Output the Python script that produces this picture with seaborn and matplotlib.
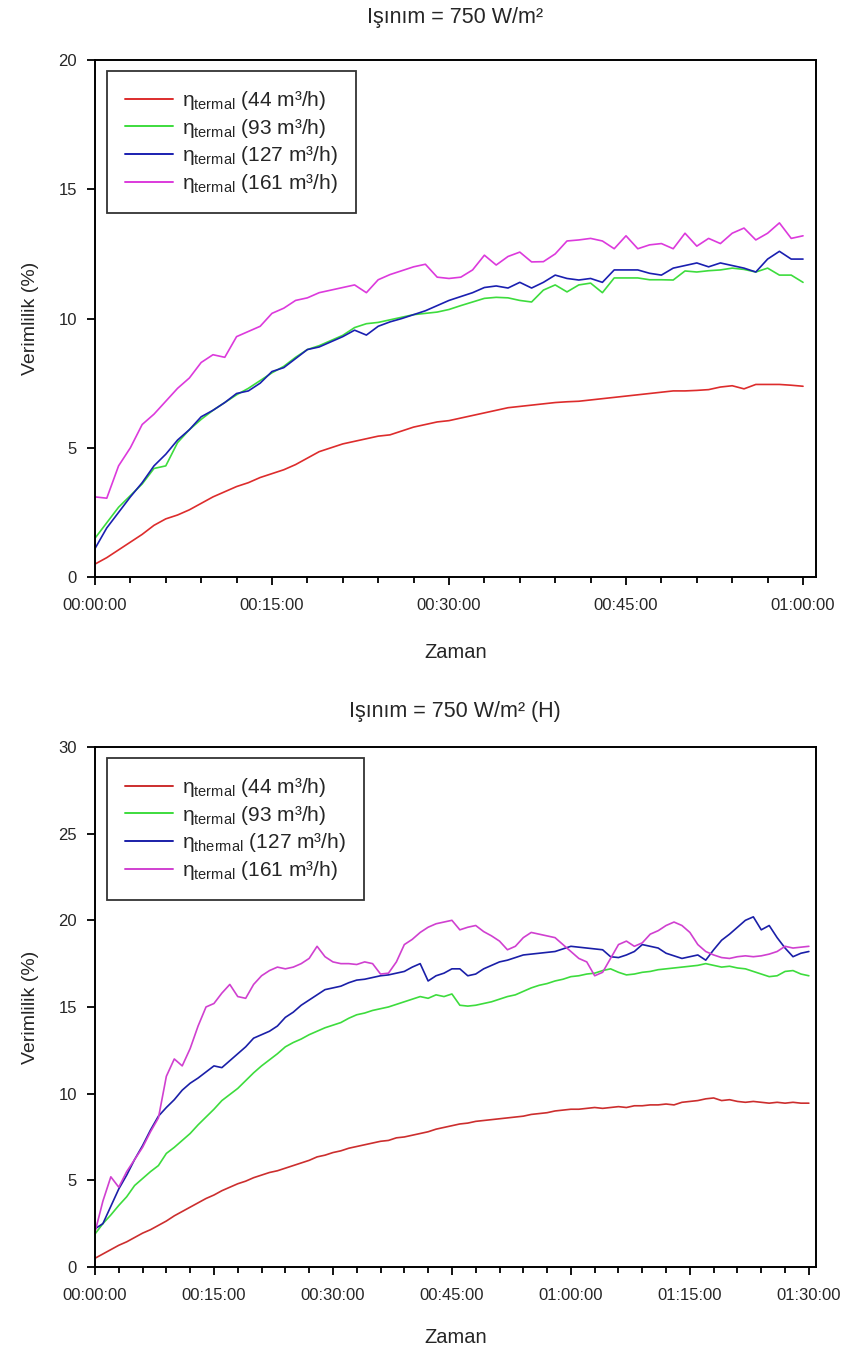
import numpy as np
import pandas as pd
import seaborn as sns
import matplotlib
matplotlib.use("Agg")
import matplotlib.pyplot as plt
from matplotlib.ticker import MultipleLocator, FuncFormatter

# ---------------- data (minutes, efficiency %) ----------------
t_top = list(range(0, 61))
top_44 = [0.5, 0.75, 1.05, 1.35, 1.65, 2.0, 2.25, 2.4, 2.6, 2.85, 3.1, 3.3, 3.5, 3.65, 3.85, 4.0,
          4.15, 4.35, 4.6, 4.85, 5.0, 5.15, 5.25, 5.35, 5.45, 5.5, 5.65, 5.8, 5.9, 6.0, 6.05,
          6.15, 6.25, 6.35, 6.45, 6.55, 6.6, 6.65, 6.7, 6.75, 6.78, 6.8, 6.85, 6.9, 6.95, 7.0,
          7.05, 7.1, 7.15, 7.2, 7.2, 7.22, 7.25, 7.35, 7.4, 7.28, 7.45, 7.45, 7.45, 7.42, 7.38]
top_93 = [1.5, 2.1, 2.7, 3.15, 3.6, 4.2, 4.3, 5.2, 5.7, 6.1, 6.45, 6.75, 7.05, 7.3, 7.6, 7.9,
          8.15, 8.5, 8.8, 8.95, 9.15, 9.35, 9.65, 9.8, 9.85, 9.95, 10.05, 10.15, 10.2, 10.25, 10.35,
          10.5, 10.64, 10.78, 10.82, 10.8, 10.7, 10.64, 11.1, 11.3, 11.03, 11.3, 11.37, 11.0, 11.57, 11.57,
          11.57, 11.5, 11.5, 11.49, 11.84, 11.8, 11.85, 11.88, 11.95, 11.9, 11.8, 11.95, 11.68, 11.68, 11.4]
top_127 = [1.1, 1.9, 2.5, 3.1, 3.65, 4.3, 4.75, 5.3, 5.7, 6.2, 6.45, 6.75, 7.1, 7.2, 7.5, 7.95,
           8.1, 8.45, 8.8, 8.9, 9.1, 9.3, 9.55, 9.36, 9.7, 9.87, 10.0, 10.15, 10.3, 10.5, 10.7,
           10.85, 11.0, 11.2, 11.26, 11.18, 11.4, 11.18, 11.4, 11.68, 11.55, 11.49, 11.55, 11.4, 11.88, 11.88,
           11.88, 11.75, 11.68, 11.95, 12.05, 12.15, 12.0, 12.15, 12.05, 11.95, 11.8, 12.3, 12.6, 12.3, 12.3]
top_161 = [3.1, 3.05, 4.3, 5.0, 5.9, 6.3, 6.8, 7.3, 7.7, 8.3, 8.6, 8.5, 9.3, 9.5, 9.7, 10.2,
           10.4, 10.7, 10.8, 11.0, 11.1, 11.2, 11.3, 11.0, 11.5, 11.7, 11.85, 12.0, 12.1, 11.6, 11.55,
           11.6, 11.88, 12.45, 12.07, 12.4, 12.57, 12.19, 12.2, 12.5, 13.0, 13.04, 13.1, 13.0, 12.7, 13.2,
           12.7, 12.85, 12.9, 12.7, 13.3, 12.8, 13.1, 12.9, 13.3, 13.5, 13.04, 13.3, 13.7, 13.1, 13.2]

t_bot = list(range(0, 91))
bot_44 = [0.5, 0.75, 1.0, 1.25, 1.45, 1.7, 1.95, 2.15, 2.4, 2.65, 2.95, 3.2, 3.45, 3.7, 3.95, 4.15,
          4.4, 4.6, 4.8, 4.95, 5.15, 5.3, 5.45, 5.55, 5.7, 5.85, 6.0, 6.15, 6.35, 6.45, 6.6,
          6.7, 6.85, 6.95, 7.05, 7.15, 7.25, 7.3, 7.45, 7.5, 7.6, 7.7, 7.8, 7.95, 8.05, 8.15,
          8.25, 8.3, 8.4, 8.45, 8.5, 8.55, 8.6, 8.65, 8.7, 8.8, 8.85, 8.9, 9.0, 9.05, 9.1,
          9.1, 9.15, 9.2, 9.15, 9.2, 9.25, 9.2, 9.3, 9.3, 9.35, 9.35, 9.4, 9.35, 9.5, 9.55,
          9.6, 9.7, 9.75, 9.6, 9.65, 9.55, 9.5, 9.55, 9.5, 9.45, 9.5, 9.45, 9.5, 9.45, 9.45]
bot_93 = [1.9, 2.5, 3.0, 3.55, 4.05, 4.7, 5.1, 5.5, 5.85, 6.55, 6.9, 7.3, 7.7, 8.2, 8.65, 9.1,
          9.6, 9.95, 10.3, 10.75, 11.2, 11.6, 11.95, 12.3, 12.7, 12.95, 13.15, 13.4, 13.6, 13.8, 13.95,
          14.1, 14.35, 14.55, 14.65, 14.8, 14.9, 15.0, 15.15, 15.3, 15.45, 15.6, 15.5, 15.7, 15.6, 15.75,
          15.1, 15.05, 15.1, 15.2, 15.3, 15.45, 15.6, 15.7, 15.9, 16.1, 16.25, 16.35, 16.5, 16.6, 16.75,
          16.8, 16.9, 16.95, 17.1, 17.2, 17.0, 16.85, 16.9, 17.0, 17.05, 17.15, 17.2, 17.25, 17.3, 17.35,
          17.4, 17.5, 17.4, 17.3, 17.35, 17.25, 17.2, 17.05, 16.9, 16.75, 16.8, 17.05, 17.1, 16.9, 16.8]
bot_127 = [2.2, 2.5, 3.5, 4.5, 5.3, 6.2, 7.0, 7.9, 8.7, 9.2, 9.65, 10.2, 10.6, 10.9, 11.25, 11.6,
           11.5, 11.9, 12.3, 12.7, 13.2, 13.4, 13.6, 13.9, 14.4, 14.7, 15.1, 15.4, 15.7, 16.0, 16.1,
           16.2, 16.4, 16.55, 16.6, 16.7, 16.8, 16.85, 16.95, 17.05, 17.3, 17.5, 16.5, 16.8, 16.95, 17.2,
           17.2, 16.8, 16.9, 17.2, 17.4, 17.6, 17.7, 17.85, 18.0, 18.05, 18.1, 18.15, 18.2, 18.35, 18.5,
           18.45, 18.4, 18.35, 18.3, 17.9, 17.85, 18.0, 18.2, 18.6, 18.5, 18.4, 18.1, 17.95, 17.8, 17.9,
           18.0, 17.7, 18.3, 18.85, 19.2, 19.6, 20.0, 20.2, 19.45, 19.7, 19.0, 18.4, 17.9, 18.1, 18.2]
bot_161 = [2.0, 3.8, 5.2, 4.6, 5.5, 6.2, 6.9, 7.8, 8.6, 11.0, 12.0, 11.6, 12.6, 13.9, 15.0, 15.2,
           15.8, 16.3, 15.6, 15.5, 16.3, 16.8, 17.1, 17.3, 17.2, 17.3, 17.5, 17.8, 18.5, 17.9, 17.6,
           17.5, 17.5, 17.45, 17.6, 17.5, 16.9, 16.95, 17.6, 18.6, 18.9, 19.3, 19.6, 19.8, 19.9, 20.0,
           19.45, 19.6, 19.7, 19.35, 19.1, 18.8, 18.3, 18.5, 19.0, 19.3, 19.2, 19.1, 19.0, 18.6, 18.2,
           17.8, 17.6, 16.8, 17.0, 17.8, 18.6, 18.8, 18.5, 18.7, 19.2, 19.4, 19.7, 19.9, 19.7, 19.3,
           18.6, 18.2, 18.0, 17.85, 17.8, 17.9, 17.95, 17.9, 17.95, 18.05, 18.2, 18.5, 18.4, 18.45, 18.5]

labels_top = [r"$\mathregular{η_{termal}}$ (44 m³/h)",
              r"$\mathregular{η_{termal}}$ (93 m³/h)",
              r"$\mathregular{η_{termal}}$ (127 m³/h)",
              r"$\mathregular{η_{termal}}$ (161 m³/h)"]
labels_bot = [r"$\mathregular{η_{termal}}$ (44 m³/h)",
              r"$\mathregular{η_{termal}}$ (93 m³/h)",
              r"$\mathregular{η_{thermal}}$ (127 m³/h)",
              r"$\mathregular{η_{termal}}$ (161 m³/h)"]
title_top = "Işınım = 750 W/m²"
title_bot = "Işınım = 750 W/m² (H)"
xlabel = "Zaman"
ylabel = "Verimlilik (%)"

colors_top = ["#dd2c2c", "#3ddc3d", "#1a1fb0", "#dc3adc"]
colors_bot = ["#cc2e2e", "#3ddc3d", "#1a1fa8", "#d040d0"]

# ---------------- style ----------------
sns.set_style("white")
plt.rcParams["font.family"] = ["Liberation Sans", "DejaVu Sans"]
plt.rcParams["mathtext.fontset"] = "custom"
plt.rcParams["mathtext.rm"] = "Liberation Sans"
plt.rcParams["mathtext.it"] = "Liberation Sans:italic"
plt.rcParams["mathtext.bf"] = "Liberation Sans:bold"


def long_df(t, series, labels):
    frames = []
    for vals, lab in zip(series, labels):
        frames.append(pd.DataFrame({"t": t, "v": vals, "s": lab}))
    return pd.concat(frames, ignore_index=True)


def hms(x, pos):
    m = int(round(x))
    return f"{m // 60:02d}:{m % 60:02d}:00"


fig = plt.figure(figsize=(8.54, 13.52), dpi=100)
ax1 = fig.add_axes([0.1112, 0.5732, 0.8443, 0.3824])
ax2 = fig.add_axes([0.1112, 0.0629, 0.8443, 0.3846])

panels = [
    (ax1, t_top, [top_44, top_93, top_127, top_161], labels_top, colors_top, 61.1, 20, title_top, 0.9867, -0.128),
    (ax2, t_bot, [bot_44, bot_93, bot_127, bot_161], labels_bot, colors_bot, 90.9, 30, title_bot, 0.4734, -0.118),
]

for ax, t, series, labels, cols, xmax, ymax, title, ty, zy in panels:
    df = long_df(t, series, labels)
    sns.lineplot(data=df, x="t", y="v", hue="s", hue_order=labels,
                 palette=dict(zip(labels, cols)), lw=1.2, ax=ax, estimator=None)
    ax.set_xlim(0, xmax)
    ax.set_ylim(0, ymax)
    ax.xaxis.set_major_locator(MultipleLocator(15))
    ax.xaxis.set_minor_locator(MultipleLocator(3))
    ax.xaxis.set_major_formatter(FuncFormatter(hms))
    ax.yaxis.set_major_locator(MultipleLocator(5))
    ax.tick_params(axis="both", which="both", direction="out", bottom=True, left=True,
                   top=False, right=False, color="black")
    ax.tick_params(axis="both", which="major", length=6, width=1.3, labelsize=12, pad=7)
    ax.tick_params(axis="x", which="major", pad=9)
    ax.tick_params(axis="x", which="minor", length=4, width=1.3)
    for sp in ax.spines.values():
        sp.set_color("black")
        sp.set_linewidth(1.4)
    ax.set_xlabel(xlabel, fontsize=14.5)
    ax.set_ylabel(ylabel, fontsize=14)
    ax.xaxis.set_label_coords(0.5, zy)
    ax.yaxis.set_label_coords(-0.078, 0.5)
    leg = ax.legend(loc="upper left", bbox_to_anchor=(0.017, 0.978), fontsize=15,
                    frameon=True, fancybox=False, handlelength=2.3, handletextpad=0.45,
                    labelspacing=0.22, borderpad=0.85, borderaxespad=0.0)
    leg.get_frame().set_edgecolor("black")
    leg.get_frame().set_linewidth(1.3)
    for h in leg.get_lines():
        h.set_linewidth(1.4)
    fig.text(0.533, ty, title, ha="center", va="center", fontsize=15.5)

fig.savefig("out.png", dpi=100, facecolor="white")
